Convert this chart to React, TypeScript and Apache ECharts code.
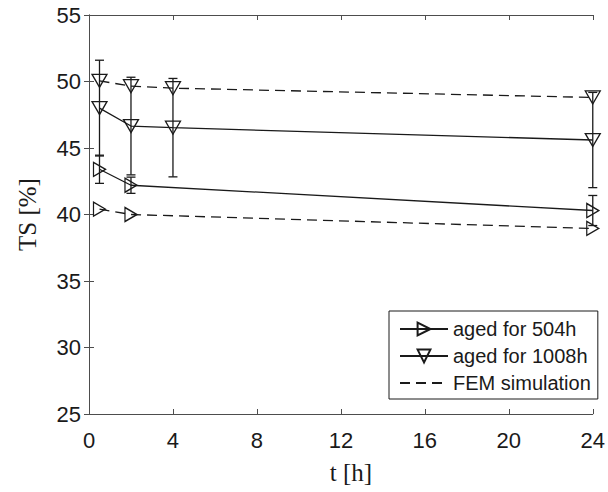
import React, { useEffect, useRef } from "react";
import * as echarts from "echarts";

// ---- data ----
const T504 = [0.5, 2, 24];
const TS504 = [43.4, 42.2, 40.3];
const ERR504 = [1.06, 0.61, 1.13];
const FEM504 = [40.4, 40.0, 38.95];

const T1008 = [0.5, 2, 4, 24];
const TS1008 = [48.0, 46.65, 46.53, 45.6];
const ERR1008 = [3.6, 3.67, 3.7, 3.58];
const FEM1008 = [50.05, 49.65, 49.5, 48.8];

const X_TICKS = [0, 4, 8, 12, 16, 20, 24];
const Y_TICKS = [25, 30, 35, 40, 45, 50, 55];

const INK = "#1a1a1a";
const AXIS = "#4d4d4d";
const LW = 1.3;

function pairs(xs: number[], ys: number[]) {
  return xs.map((x, i) => [x, ys[i]]);
}
function errData(xs: number[], ys: number[], es: number[]) {
  return xs.map((x, i) => [x, ys[i] - es[i], ys[i] + es[i]]);
}

const errRender = (params: any, api: any) => {
  const x = api.value(0);
  const lo = api.coord([x, api.value(1)]);
  const hi = api.coord([x, api.value(2)]);
  const half = 4.5;
  const style = { stroke: INK, lineWidth: LW };
  return {
    type: "group",
    children: [
      { type: "line", shape: { x1: lo[0], y1: lo[1], x2: hi[0], y2: hi[1] }, style },
      { type: "line", shape: { x1: lo[0] - half, y1: lo[1], x2: lo[0] + half, y2: lo[1] }, style },
      { type: "line", shape: { x1: hi[0] - half, y1: hi[1], x2: hi[0] + half, y2: hi[1] }, style },
    ],
  };
};

const rightTri = { symbol: "triangle", symbolSize: [14, 12], symbolRotate: -90 };
const downTri = { symbol: "triangle", symbolSize: [15, 13], symbolRotate: 180 };
const hollow = { color: "rgba(0,0,0,0)", borderColor: INK, borderWidth: LW, opacity: 1 };

export default function App() {
  const ref = useRef<HTMLDivElement>(null);
  useEffect(() => {
    if (!ref.current) return;
    const chart = echarts.init(ref.current, undefined, { renderer: "svg" });
    const axisCommon = {
      axisLine: { show: true, lineStyle: { color: AXIS, width: 1 } },
      axisTick: { show: true, inside: true, length: 5, lineStyle: { color: AXIS } },
      splitLine: { show: false },
    };
    chart.setOption({
      animation: false,
      backgroundColor: "#ffffff",
      grid: { left: 89, right: 13, top: 15, bottom: 78, containLabel: false },
      xAxis: [
        {
          type: "value",
          min: X_TICKS[0],
          max: X_TICKS[X_TICKS.length - 1],
          interval: 4,
          position: "bottom",
          name: "t [h]",
          nameLocation: "middle",
          nameGap: 46,
          nameTextStyle: { fontFamily: "Liberation Serif", fontSize: 25, color: INK, padding: [0, 0, 0, 20] },
          axisLabel: { fontFamily: "Liberation Sans", fontSize: 22, color: INK, margin: 15 },
          ...axisCommon,
        },
        {
          type: "value",
          min: X_TICKS[0],
          max: X_TICKS[X_TICKS.length - 1],
          interval: 4,
          position: "top",
          axisLabel: { show: false },
          ...axisCommon,
        },
      ],
      yAxis: [
        {
          type: "value",
          min: Y_TICKS[0],
          max: Y_TICKS[Y_TICKS.length - 1],
          interval: 5,
          position: "left",
          name: "TS [%]",
          nameLocation: "middle",
          nameGap: 49,
          nameTextStyle: { fontFamily: "Liberation Serif", fontSize: 25, color: INK },
          axisLabel: { fontFamily: "Liberation Sans", fontSize: 22, color: INK, margin: 8 },
          ...axisCommon,
        },
        {
          type: "value",
          min: Y_TICKS[0],
          max: Y_TICKS[Y_TICKS.length - 1],
          interval: 5,
          position: "right",
          axisLabel: { show: false },
          ...axisCommon,
        },
      ],
      legend: {
        orient: "vertical",
        left: 389,
        top: 311,
        width: 212,
        padding: [8, 7, 6, 10],
        itemWidth: 48,
        itemHeight: 16,
        itemGap: 7,
        backgroundColor: "#ffffff",
        borderColor: INK,
        borderWidth: 1,
        borderRadius: 0,
        textStyle: { fontFamily: "Liberation Sans", fontSize: 20, color: INK, padding: [0, 0, 0, 0] },
        data: [
          "aged for 504h",
          "aged for 1008h",
          {
            name: "FEM simulation",
            itemStyle: { color: "rgba(0,0,0,0)", borderColor: "rgba(0,0,0,0)", borderWidth: 0, opacity: 0 },
          },
        ],
      },
      series: [
        {
          type: "custom",
          name: "err504",
          renderItem: errRender,
          data: errData(T504, TS504, ERR504),
          encode: { x: 0, y: [1, 2] },
          z: 2,
        },
        {
          type: "custom",
          name: "err1008",
          renderItem: errRender,
          data: errData(T1008, TS1008, ERR1008),
          encode: { x: 0, y: [1, 2] },
          z: 2,
        },
        {
          type: "line",
          name: "aged for 504h",
          data: pairs(T504, TS504),
          ...rightTri,
          showAllSymbol: true,
          lineStyle: { color: INK, width: LW },
          itemStyle: hollow,
          z: 3,
        },
        {
          type: "line",
          name: "aged for 1008h",
          data: pairs(T1008, TS1008),
          ...downTri,
          showAllSymbol: true,
          lineStyle: { color: INK, width: LW },
          itemStyle: hollow,
          z: 3,
        },
        {
          type: "line",
          name: "FEM simulation",
          data: pairs(T504, FEM504),
          symbol: "none",
          lineStyle: { color: INK, width: LW, type: [10, 6] },
          itemStyle: { color: INK },
          z: 3,
        },
        {
          type: "line",
          name: "FEM simulation",
          data: pairs(T1008, FEM1008),
          symbol: "none",
          lineStyle: { color: INK, width: LW, type: [10, 6] },
          itemStyle: { color: INK },
          z: 3,
        },
        {
          type: "scatter",
          name: "fem504markers",
          data: pairs(T504, FEM504),
          ...rightTri,
          itemStyle: hollow,
          emphasis: { disabled: true },
          z: 4,
        },
        {
          type: "scatter",
          name: "fem1008markers",
          data: pairs(T1008, FEM1008),
          ...downTri,
          itemStyle: hollow,
          emphasis: { disabled: true },
          z: 4,
        },
      ],
    });
    return () => chart.dispose();
  }, []);
  return (
    <div
      ref={ref}
      style={{ position: "fixed", left: 0, top: 0, width: 608, height: 492, background: "#fff" }}
    />
  );
}
